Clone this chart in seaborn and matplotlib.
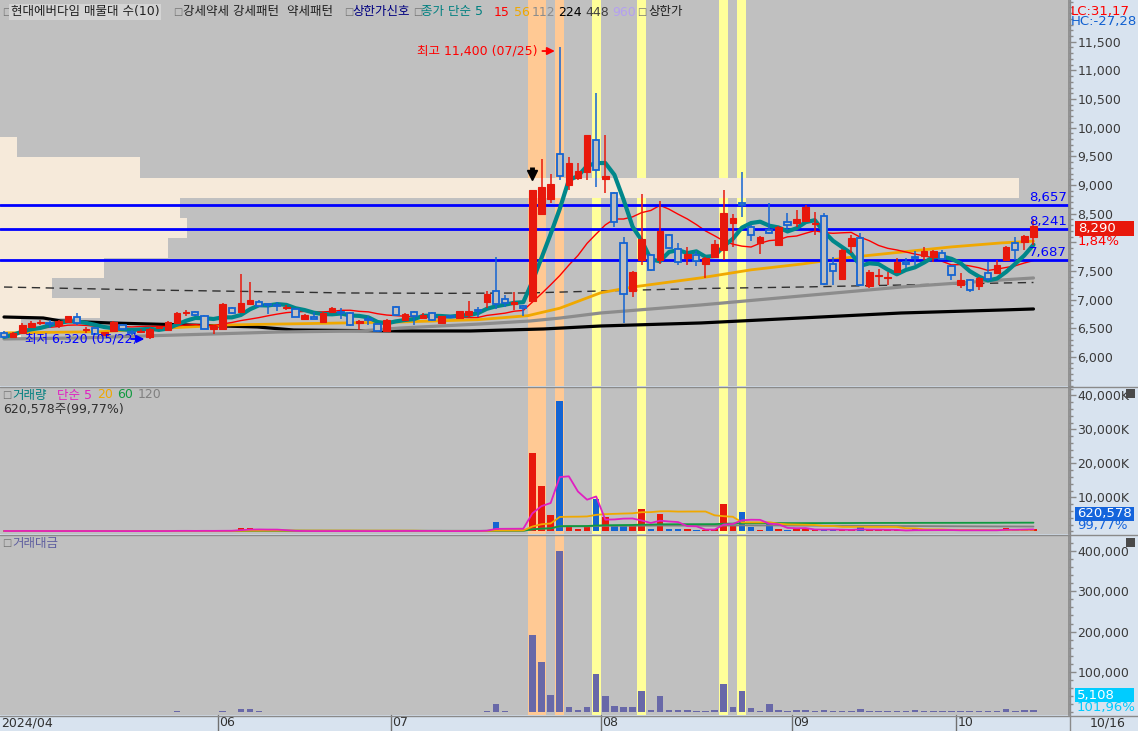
import matplotlib
matplotlib.use("Agg")
import matplotlib.pyplot as plt
import matplotlib.ticker as mticker
from matplotlib.patches import Rectangle
from matplotlib.lines import Line2D
import numpy as np
import pandas as pd
import seaborn as sns

W, H = 1138, 731

# 일봉 OHLC (2024/04/25 ~ 2024/10/16)
opens = [6420, 6350, 6420, 6530, 6590, 6580, 6550, 6610, 6690, 6470,
         6500, 6380, 6450, 6560, 6430, 6440, 6340, 6500, 6470, 6590,
         6770, 6780, 6720, 6490, 6490, 6850, 6790, 6920, 6960, 6910,
         6900, 6860, 6840, 6670, 6700, 6610, 6780, 6780, 6770, 6590,
         6650, 6580, 6450, 6870, 6640, 6790, 6680, 6760, 6600, 6710,
         6680, 6740, 6810, 6950, 7150, 7010, 6920, 6890, 6970, 8500,
         8760, 9540, 9000, 9130, 9230, 9790, 9100, 8860, 7980, 7150,
         7690, 7770, 7700, 8130, 7890, 7730, 7780, 7630, 7750, 7870,
         8340, 8680, 8260, 7990, 8210, 7950, 8350, 8330, 8380, 8320,
         8460, 7630, 7360, 7940, 8070, 7240, 7420, 7370, 7490, 7640,
         7750, 7760, 7750, 7810, 7590, 7260, 7340, 7240, 7460, 7460,
         7700, 7980, 8000, 8100]
highs = [6450, 6440, 6600, 6620, 6640, 6640, 6640, 6720, 6770, 6530,
         6510, 6440, 6630, 6580, 6470, 6480, 6510, 6540, 6620, 6780,
         6820, 6800, 6730, 6550, 6940, 6880, 7450, 7300, 6990, 6930,
         6950, 6900, 6860, 6750, 6790, 6780, 6870, 6860, 6780, 6640,
         6710, 6590, 6660, 6890, 6770, 6800, 6760, 6780, 6720, 6720,
         6810, 6970, 6880, 7150, 7750, 7080, 7140, 6900, 8910, 9460,
         9200, 11400, 9490, 9380, 9870, 10610, 9870, 8870, 8100, 7500,
         8850, 7790, 8720, 8150, 7990, 7920, 7850, 7750, 8040, 8910,
         8490, 9220, 8310, 8110, 8680, 8290, 8510, 8560, 8650, 8530,
         8520, 7750, 7880, 8130, 8160, 7520, 7530, 7490, 7720, 7720,
         7850, 7920, 7870, 7870, 7610, 7460, 7360, 7400, 7660, 7690,
         7940, 8100, 8130, 8400]
lows = [6330, 6330, 6400, 6500, 6550, 6510, 6500, 6600, 6560, 6410,
        6390, 6370, 6440, 6470, 6380, 6420, 6320, 6480, 6460, 6580,
        6710, 6720, 6480, 6400, 6480, 6750, 6780, 6900, 6870, 6750,
        6800, 6820, 6690, 6650, 6660, 6600, 6770, 6660, 6540, 6470,
        6560, 6440, 6440, 6720, 6630, 6560, 6670, 6630, 6590, 6690,
        6670, 6680, 6700, 6850, 6830, 6880, 6820, 6710, 6960, 8480,
        8680, 9090, 8910, 9090, 9090, 8970, 8860, 8260, 6590, 7050,
        7600, 7500, 7630, 7880, 7600, 7600, 7580, 7370, 7730, 7690,
        7920, 8440, 8020, 7800, 8150, 7930, 8210, 8270, 8370, 8130,
        7250, 7260, 7340, 7810, 7240, 7200, 7260, 7260, 7470, 7550,
        7600, 7690, 7660, 7690, 7340, 7200, 7140, 7170, 7330, 7440,
        7680, 7700, 7860, 7960]
closes = [6350, 6420, 6560, 6600, 6600, 6570, 6620, 6710, 6590, 6480,
          6400, 6430, 6610, 6490, 6420, 6450, 6490, 6510, 6610, 6770,
          6780, 6730, 6490, 6540, 6920, 6770, 6940, 6990, 6890, 6900,
          6890, 6870, 6700, 6730, 6670, 6770, 6850, 6770, 6560, 6630,
          6640, 6450, 6650, 6730, 6750, 6720, 6740, 6650, 6710, 6700,
          6800, 6800, 6800, 7100, 6920, 6940, 6960, 6860, 8910, 8970,
          9020, 9150, 9390, 9240, 9870, 9260, 9160, 8360, 7090, 7490,
          8050, 7520, 8200, 7900, 7650, 7790, 7670, 7730, 7970, 8510,
          8420, 8650, 8130, 8090, 8160, 8270, 8300, 8410, 8620, 8330,
          7270, 7500, 7860, 8070, 7250, 7490, 7430, 7380, 7660, 7630,
          7720, 7850, 7850, 7710, 7430, 7340, 7160, 7380, 7360, 7600,
          7920, 7870, 8110, 8290]

# 거래량 (천주)
volume_k = [150, 120, 200, 150, 100, 100, 120, 200, 150, 120,
            100, 100, 180, 120, 100, 100, 200, 120, 150, 300,
            150, 120, 200, 120, 400, 200, 1000, 1100, 300, 200,
            150, 120, 150, 100, 100, 150, 150, 120, 150, 100,
            100, 120, 150, 250, 150, 150, 100, 120, 120, 100,
            150, 200, 150, 500, 2800, 300, 250, 250, 23100, 13400,
            4850, 38400, 1400, 700, 1400, 9600, 4300, 1700, 1900, 1600,
            6600, 700, 5100, 700, 700, 700, 400, 300, 700, 8100,
            1600, 5700, 1200, 500, 2500, 700, 400, 700, 700, 400,
            600, 400, 500, 400, 1200, 300, 300, 300, 300, 300,
            700, 350, 350, 350, 350, 350, 350, 350, 350, 350,
            1100, 350, 622, 621]

# 거래대금 (백만원)
trade_value = [1000, 800, 1300, 1000, 700, 700, 800, 1300, 1000, 800,
               650, 650, 1200, 800, 650, 650, 1300, 800, 1000, 2000,
               1000, 800, 1300, 800, 2700, 1400, 7200, 7800, 2100, 1400,
               1000, 800, 1000, 700, 700, 1000, 1000, 800, 1000, 700,
               700, 800, 1000, 1700, 1000, 1000, 700, 800, 800, 700,
               1000, 1400, 1000, 3500, 20500, 2100, 1700, 1700, 192000, 124000,
               44000, 400000, 13000, 6400, 13000, 96000, 40000, 14500, 14000, 12000,
               53000, 5400, 41000, 5600, 5500, 5400, 3100, 2300, 5500, 70000,
               13000, 54000, 10000, 4000, 21000, 5700, 3300, 5900, 6000, 3300,
               4700, 3000, 3800, 3200, 9100, 2200, 2200, 2200, 2200, 2300,
               5400, 2700, 2700, 2700, 2700, 2600, 2600, 2600, 2600, 2700,
               8600, 2700, 5010, 5108]

month_start = [24, 43, 66, 87, 105]
month_labels = ["06", "07", "08", "09", "10"]

limit_up_days = [58, 59, 61]       # 주황 띠
signal_days = [65, 70, 79, 81]     # 노랑 띠
levels = [8657, 8241, 7687]

# 매물대 수(10): 구간 경계와 상대 크기
profile_edges = [9840, 9490, 9130, 8770, 8420, 8080, 7730, 7380, 7030, 6680, 6330]
profile_size = [1.9, 15.4, 111.8, 19.8, 20.5, 18.4, 11.4, 5.7, 11.0, 2.3]

# 장기 이동평균 (그림에서 읽은 점)
ma56_x = [0, 10.5, 16, 25, 32.5, 43.5, 52, 57.5, 61, 65.5, 69, 76.5, 82, 87.5, 93, 98.5, 104, 109.5, 113]
ma56_y = [6420, 6440, 6490, 6560, 6580, 6610, 6650, 6720, 6850, 7120, 7220, 7380, 7520, 7620, 7740, 7830, 7920, 7990, 8020]
ma112_x = [0, 8.4, 15.3, 23, 30.3, 39.1, 43.5, 52.3, 57.8, 61.1, 65.5, 76.5, 87.5, 98.5, 109.5, 113]
ma112_y = [6314, 6331, 6366, 6401, 6436, 6453, 6505, 6575, 6628, 6680, 6767, 6907, 7064, 7220, 7343, 7378]
ma224_x = [0, 4.3, 6.2, 11.6, 20.1, 27.8, 31.8, 43.5, 51.2, 59.2, 65.5, 76.5, 87.5, 98.5, 109.5, 113]
ma224_y = [6697, 6680, 6628, 6593, 6558, 6523, 6470, 6453, 6453, 6488, 6540, 6593, 6680, 6767, 6819, 6837]
ma448_x = [0, 5.1, 16, 27, 38, 49, 57.5, 65.5, 76.5, 87.5, 98.5, 109.5, 113]
ma448_y = [7220, 7203, 7168, 7142, 7116, 7110, 7116, 7151, 7194, 7220, 7255, 7290, 7299]

RED = "#E8180C"
BLUE = "#1464D2"
BG = "#C0C0C0"
STRIP = "#D8E3EF"
ORANGE_BAND = "#FFC994"
YELLOW_BAND = "#FFFF99"
BEIGE = "#F6EADA"

sns.set_theme(style="white")
plt.rcParams["font.family"] = ["DejaVu Sans", "Noto Sans CJK KR"]
plt.rcParams["axes.unicode_minus"] = False

df = pd.DataFrame({"open": opens, "high": highs, "low": lows, "close": closes,
                   "vol": volume_k, "tv": trade_value})
df["idx"] = np.arange(len(df))
df["dir"] = np.where(df["close"] >= df["open"], "up", "down")
df["ma5"] = df["close"].rolling(5, min_periods=1).mean()
df["ma15"] = df["close"].rolling(15, min_periods=1).mean()
for n in (5, 20, 60, 120):
    df[f"vma{n}"] = df["vol"].rolling(n, min_periods=1).mean()

fig = plt.figure(figsize=(W / 100, H / 100), dpi=100, facecolor=STRIP)


def px_axes(x0, y0, x1, y1):
    return fig.add_axes([x0 / W, 1 - y1 / H, (x1 - x0) / W, (y1 - y0) / H])


ax1 = px_axes(0, 0, 1069, 386)
ax2 = px_axes(0, 387, 1069, 534)
ax3 = px_axes(0, 536, 1069, 715)

XMIN, XMAX = -0.44, 116.9
for ax in (ax1, ax2, ax3):
    ax.set_facecolor(BG)
    for s in ("top", "left", "bottom"):
        ax.spines[s].set_visible(False)
    ax.spines["right"].set_color("#8a8a8a")
    ax.yaxis.tick_right()
    ax.tick_params(axis="y", which="major", direction="out", length=5, width=1,
                   colors="#8a8a8a", labelcolor="#3a3a3a", labelsize=9, pad=1)
    ax.tick_params(axis="y", which="minor", direction="out", length=3, width=1,
                   colors="#8a8a8a")
    ax.tick_params(axis="x", bottom=False, labelbottom=False)
    for d in limit_up_days:
        ax.axvspan(d - 0.5, d + 0.5, color=ORANGE_BAND, lw=0, zorder=0.3)
    for d in signal_days:
        ax.axvspan(d - 0.5, d + 0.5, color=YELLOW_BAND, lw=0, zorder=0.3)

# ---- 가격 ----
for k in range(len(profile_size)):
    ax1.barh(profile_edges[k + 1], profile_size[k],
             height=profile_edges[k] - profile_edges[k + 1], left=XMIN,
             align="edge", color=BEIGE, lw=0, zorder=0.5)

for lv in levels:
    ax1.axhline(lv, color="#0000FF", lw=2, zorder=2.2)

sns.lineplot(x=ma448_x, y=ma448_y, ax=ax1, color="#303030", lw=1, linestyle=(0, (6, 4)), zorder=1.5)
sns.lineplot(x=ma224_x, y=ma224_y, ax=ax1, color="black", lw=2.3, zorder=1.6)
sns.lineplot(x=ma112_x, y=ma112_y, ax=ax1, color="#8c8c8c", lw=2.3, zorder=1.7)
sns.lineplot(x=ma56_x, y=ma56_y, ax=ax1, color="#F0A800", lw=2, zorder=1.8)
sns.lineplot(data=df, x="idx", y="ma15", ax=ax1, color="#FF0000", lw=1, zorder=1.9)
sns.lineplot(data=df, x="idx", y="ma5", ax=ax1, color="#00878A", lw=3, zorder=2.5)

up = df["dir"] == "up"
body_lo = np.minimum(df["open"], df["close"])
body_h = np.maximum(np.abs(df["close"] - df["open"]), 18)
ax1.vlines(df["idx"][up], df["low"][up], df["high"][up], color=RED, lw=1.1, zorder=3)
ax1.vlines(df["idx"][~up], df["low"][~up], df["high"][~up], color=BLUE, lw=1.1, zorder=3)
ax1.bar(df["idx"][up], body_h[up], bottom=body_lo[up], width=0.72, color=RED,
        edgecolor=RED, lw=0.8, zorder=3.1)
ax1.bar(df["idx"][~up], body_h[~up], bottom=body_lo[~up], width=0.68, facecolor=BG,
        edgecolor=BLUE, lw=1.3, zorder=3.1)

ax1.set_xlim(XMIN, XMAX)
ax1.set_ylim(5493, 12228)
ax1.yaxis.set_major_locator(mticker.FixedLocator(list(range(6000, 11501, 500))))
ax1.yaxis.set_minor_locator(mticker.MultipleLocator(100))
# 8,000 눈금 글자는 현재가 표시에 가려진다
ax1.yaxis.set_major_formatter(mticker.FuncFormatter(lambda v, _: "" if v == 8000 else f"{v:,.0f}"))
ax1.set_xlabel("")
ax1.set_ylabel("")


def ix(px):
    return (px - 4) / 9.1


def pr(py):
    return 12227.5 - 17.446 * py


# 최고 / 최저 표시
ax1.text(ix(537), pr(51), "최고 11,400 (07/25)", color="#FF0000", fontsize=9,
         ha="right", va="center", zorder=5)
ax1.annotate("", xy=(ix(557), pr(51)), xytext=(ix(539), pr(51)),
             arrowprops=dict(arrowstyle="-|>", color="#FF0000", lw=1.3, mutation_scale=11),
             zorder=5)
ax1.text(ix(25), pr(339), "최저 6,320 (05/22)", color="#0000FF", fontsize=9,
         ha="left", va="center", zorder=5)
ax1.annotate("", xy=(ix(147), pr(339)), xytext=(ix(128), pr(339)),
             arrowprops=dict(arrowstyle="-|>", color="#0000FF", lw=1.3, mutation_scale=11),
             zorder=5)
ax1.plot([58, 58], [pr(167), pr(173)], color="black", lw=3.5, solid_capstyle="butt", zorder=5)
ax1.plot([58], [pr(175)], marker="v", color="black", ms=7, zorder=5)

for lv, py in zip(levels, (197, 221, 253)):
    ax1.text(ix(1066), pr(py), f"{lv:,}", color="#0000FF", fontsize=9.5,
             ha="right", va="center", zorder=5)

# ---- 거래량 ----
sns.barplot(data=df, x="idx", y="vol", hue="dir", palette={"up": RED, "down": BLUE},
            native_scale=True, width=0.72, dodge=False, saturation=1, errorbar=None,
            legend=False, lw=0, ax=ax2, zorder=3)
sns.lineplot(data=df, x="idx", y="vma120", ax=ax2, color="#808080", lw=1.3, zorder=4)
sns.lineplot(data=df, x="idx", y="vma60", ax=ax2, color="#109A40", lw=1.3, zorder=4)
sns.lineplot(data=df, x="idx", y="vma20", ax=ax2, color="#F0A800", lw=1.3, zorder=4)
sns.lineplot(data=df, x="idx", y="vma5", ax=ax2, color="#E020C0", lw=1.3, zorder=4)
ax2.set_xlim(XMIN, XMAX)
ax2.set_ylim(-740, 42500)
ax2.set_yticks([10000, 20000, 30000, 40000])
ax2.yaxis.set_minor_locator(mticker.MultipleLocator(2000))
ax2.yaxis.set_major_formatter(mticker.FuncFormatter(lambda v, _: f"{v:,.0f}K"))
ax2.set_xlabel("")
ax2.set_ylabel("")

# ---- 거래대금 ----
sns.barplot(data=df, x="idx", y="tv", color="#6868A8", native_scale=True, width=0.72,
            saturation=1, errorbar=None, lw=0, ax=ax3, zorder=3)
ax3.set_xlim(XMIN, XMAX)
ax3.set_ylim(-6700, 437000)
ax3.set_yticks([100000, 200000, 300000, 400000])
ax3.yaxis.set_minor_locator(mticker.MultipleLocator(20000))
ax3.yaxis.set_major_formatter(mticker.FuncFormatter(lambda v, _: f"{v:,.0f}"))
ax3.set_xlabel("")
ax3.set_ylabel("")

# 날짜 축
xt = ax3.get_xaxis_transform()
strip_h = 16 / 179
ax3.text(XMIN + 0.1, -strip_h / 2, "2024/04", transform=xt, fontsize=9, color="#303030",
         va="center", ha="left", clip_on=False)
for m, lab in zip(month_start, month_labels):
    ax3.plot([m - 0.5, m - 0.5], [0, -strip_h], transform=xt, color="#707070", lw=1,
             clip_on=False)
    ax3.text(m - 0.35, -strip_h / 2, lab, transform=xt, fontsize=9, color="#303030",
             va="center", ha="left", clip_on=False)


def ptext(x, y, s, color, size=9, ha="left", **kw):
    fig.text(x / W, 1 - y / H, s, color=color, fontsize=size, ha=ha, va="center", **kw)


def prect(x0, y0, x1, y1, color):
    fig.patches.append(Rectangle((x0 / W, 1 - y1 / H), (x1 - x0) / W, (y1 - y0) / H,
                                 transform=fig.transFigure, color=color, lw=0, zorder=2))


def hline(y, x0=0, x1=W, color="#8a8a8a"):
    fig.add_artist(Line2D([x0 / W, x1 / W], [1 - y / H, 1 - y / H], color=color, lw=1))


hline(386.5)
hline(535)
hline(715.5)
fig.add_artist(Line2D([1069.5 / W, 1069.5 / W], [0, 1], color="#8a8a8a", lw=1))
ptext(1090, 723, "10/16", "#303030")

# 범례
SQ = "#707070"
ptext(2, 12, "□", SQ, 7)
ptext(11, 12, "현대에버다임 매물대 수(10)", "#202020",
      bbox=dict(facecolor="#D4D4D4", edgecolor="none", pad=1.2))
ptext(173, 12, "□", SQ, 7)
ptext(183, 12, "강세약세 강세패턴  약세패턴", "#202020")
ptext(344, 12, "□", SQ, 7)
ptext(352, 12, "상한가신호", "#000080")
ptext(413, 12, "□", SQ, 7)
ptext(421, 12, "종가 단순 5", "#008080")
ptext(494, 12, "15", "#FF0000")
ptext(514, 12, "56", "#F0A800")
ptext(532, 12, "112", "#8C8C8C")
ptext(558, 12, "224", "#000000")
ptext(585, 12, "448", "#404040")
ptext(612, 12, "960", "#B4A0F0")
ptext(637, 12, "□", SQ, 7)
ptext(648, 12, "상한가", "#202020")

ptext(2, 395, "□", SQ, 7)
ptext(12, 395, "거래량", "#008080")
ptext(57, 395, "단순 5", "#E020C0")
ptext(97, 395, "20", "#F0A800")
ptext(117, 395, "60", "#109A40")
ptext(138, 395, "120", "#808080")
ptext(3, 409, "620,578주(99,77%)", "#303030")

ptext(2, 543, "□", SQ, 7)
ptext(12, 543, "거래대금", "#6060A0")

# 오른쪽 값 표시
ptext(1071, 11, "LC:31,17", "#FF0000", 9.5)
ptext(1071, 22, "HC:-27,28", "#1060D0", 9.5)
prect(1075, 221, 1134, 236, RED)
ptext(1078, 228.5, "8,290", "white", 9.5)
ptext(1078, 241, "1,84%", "#FF0000", 9.5)
prect(1075, 507, 1134, 521, "#1464DC")
ptext(1077, 514, "620,578", "white", 9.5)
ptext(1077, 526, "99,77%", "#1464DC", 9.5)
prect(1075, 688, 1134, 702, "#00CCFF")
ptext(1077, 695, "5,108", "white", 9.5)
ptext(1077, 707, "101,96%", "#00CCFF", 9.5)
prect(1126, 389, 1135, 398, "#4A4A4A")
prect(1126, 538, 1135, 547, "#4A4A4A")

fig.savefig("out.png", dpi=100, facecolor=STRIP)
